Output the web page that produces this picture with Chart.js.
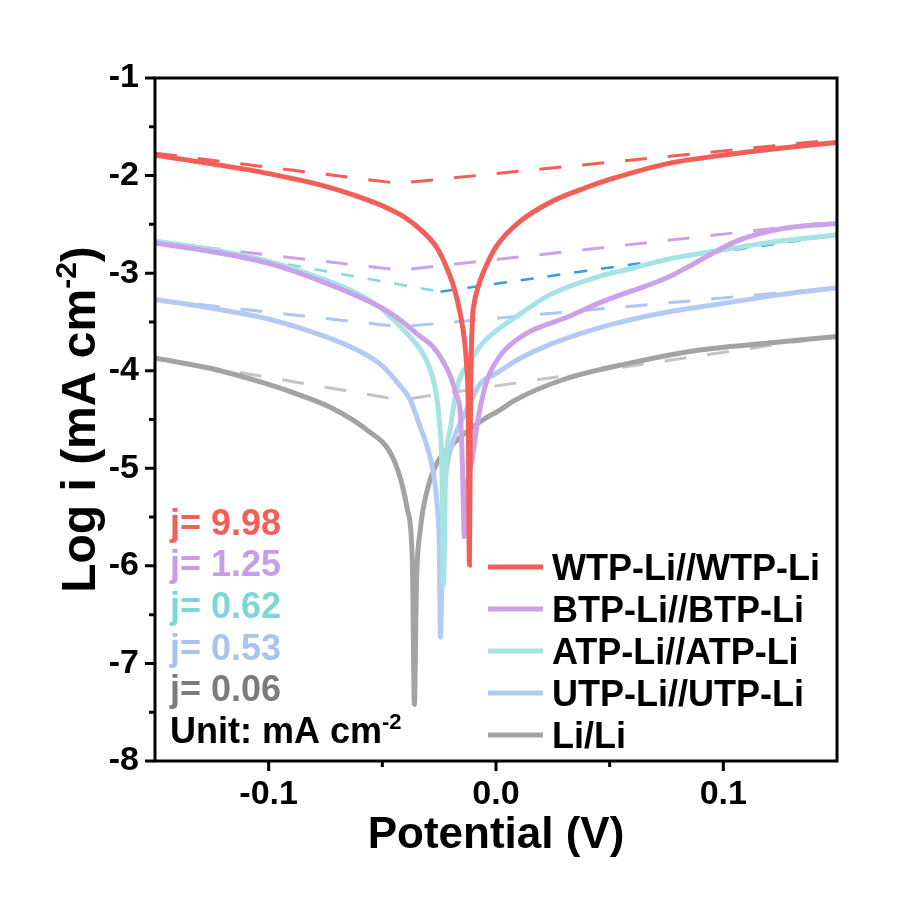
<!DOCTYPE html>
<html>
<head>
<meta charset="utf-8">
<script src="https://cdn.jsdelivr.net/npm/chart.js@4.4.1/dist/chart.umd.min.js"></script>
<style>
  html, body { margin: 0; padding: 0; background: #fff; }
  canvas { display: block; }
</style>
</head>
<body>
<canvas id="tafel" width="904" height="906"></canvas>
<script>
// measured curves: potential (V) and log i
const wtpE   = [-0.15, -0.125, -0.1, -0.075, -0.06, -0.05, -0.04, -0.032, -0.026, -0.0214, -0.0182, -0.0157, -0.0139, -0.0129, -0.0122, -0.0117, -0.0112, -0.0104, -0.0095, -0.008, -0.005, 0, 0.01, 0.025, 0.04, 0.05, 0.075, 0.1, 0.125, 0.15];
const wtpLog = [-1.79, -1.88, -1.98, -2.11, -2.22, -2.31, -2.43, -2.58, -2.74, -2.96, -3.17, -3.42, -3.68, -3.95, -4.4, -5.99, -4.3, -3.5, -3.3, -3.15, -2.96, -2.73, -2.48, -2.26, -2.12, -2.04, -1.88, -1.79, -1.72, -1.66];

const btpE   = [-0.15, -0.125, -0.1, -0.075, -0.05, -0.0421, -0.0349, -0.0275, -0.0234, -0.02, -0.0174, -0.0156, -0.0148, -0.0139, -0.0127, -0.0104, -0.0081, -0.0054, -0.0037, 0.002, 0.0081, 0.0165, 0.0315, 0.046, 0.06, 0.075, 0.085, 0.095, 0.105, 0.115, 0.127, 0.15];
const btpLog = [-2.69, -2.78, -2.9, -3.1, -3.36, -3.48, -3.62, -3.76, -3.9, -4.06, -4.25, -4.47, -4.94, -5.7, -5.2, -4.9, -4.52, -4.22, -4.08, -3.84, -3.7, -3.58, -3.45, -3.3, -3.18, -3.05, -2.93, -2.8, -2.68, -2.6, -2.54, -2.49];

const atpE   = [-0.15, -0.125, -0.1, -0.075, -0.06, -0.05, -0.042, -0.036, -0.0315, -0.0281, -0.0262, -0.0248, -0.0238, -0.0231, -0.0222, -0.02, -0.0165, -0.0126, -0.0056, 0.0093, 0.0238, 0.046, 0.06, 0.075, 0.1, 0.125, 0.15];
const atpLog = [-2.67, -2.76, -2.88, -3.07, -3.22, -3.37, -3.55, -3.7, -3.85, -4.05, -4.25, -4.55, -5.0, -6.2, -5.1, -4.58, -4.12, -3.95, -3.71, -3.44, -3.22, -3.03, -2.95, -2.86, -2.76, -2.67, -2.61];

const utpE   = [-0.15, -0.125, -0.1, -0.075, -0.06, -0.05, -0.042, -0.0377, -0.0333, -0.03, -0.0275, -0.0258, -0.025, -0.0244, -0.0235, -0.0222, -0.0187, -0.0143, -0.0068, 0, 0.01, 0.025, 0.05, 0.075, 0.1, 0.125, 0.15];
const utpLog = [-3.27, -3.36, -3.47, -3.65, -3.8, -3.95, -4.16, -4.3, -4.58, -4.8, -5.05, -5.4, -5.75, -6.73, -5.6, -5.1, -4.71, -4.47, -4.13, -4.03, -3.88, -3.72, -3.53, -3.4, -3.31, -3.22, -3.15];

const liE   = [-0.15, -0.125, -0.1, -0.085, -0.0716, -0.0566, -0.0465, -0.0421, -0.039, -0.0368, -0.0359, -0.035, -0.0333, -0.0302, -0.0258, -0.017, -0.0055, 0.002, 0.0077, 0.0297, 0.0593, 0.0888, 0.1178, 0.15];
const liLog = [-3.87, -3.98, -4.14, -4.26, -4.39, -4.61, -4.84, -5.1, -5.42, -5.95, -7.42, -6.2, -5.63, -5.22, -4.94, -4.71, -4.5, -4.4, -4.31, -4.09, -3.92, -3.79, -3.72, -3.65];

// Tafel fit lines
const wtpFitE = [-0.15, -0.043, 0.15];
const wtpFitLog = [-1.77, -2.08, -1.63];
const btpFitE = [-0.15, -0.042, 0.15];
const btpFitLog = [-2.68, -2.97, -2.47];
const atpFitLeftE = [-0.15, -0.0244];
const atpFitLeftLog = [-2.67, -3.19];
const atpFitRightE = [-0.0244, 0.15];
const atpFitRightLog = [-3.19, -2.61];
const utpFitE = [-0.15, -0.042, 0.15];
const utpFitLog = [-3.27, -3.55, -3.15];
const liFitE = [-0.15, -0.042, 0.15];
const liFitLog = [-3.87, -4.3, -3.64];

const names = ['WTP-Li//WTP-Li', 'BTP-Li//BTP-Li', 'ATP-Li//ATP-Li', 'UTP-Li//UTP-Li', 'Li/Li'];
const jValues = ['9.98', '1.25', '0.62', '0.53', '0.06'];
const xTickValues = [-0.1, 0, 0.1];
const xTickLabels = ['-0.1', '0.0', '0.1'];

const lineColors = ['#F25E58', '#CBA2EA', '#A6E4E4', '#B3CBF3', '#A3A3A3'];
const fitColors  = ['#F25E58', '#CBA2EA', '#86DADB', '#AEC6F2', '#C4C4C4'];
const jColors    = ['#F25E58', '#C89CE8', '#7DD8D5', '#A9C3EF', '#7C7C7C'];
const blueFit = '#2E9EE0';

const FONT = "'Liberation Sans', Arial, sans-serif";

function pts(xs, ys) {
  return xs.map((x, i) => ({ x: x, y: ys[i] }));
}

const curves = [[wtpE, wtpLog], [btpE, btpLog], [atpE, atpLog], [utpE, utpLog], [liE, liLog]];
const datasets = curves.map((c, i) => ({
  label: names[i],
  data: pts(c[0], c[1]),
  borderColor: lineColors[i],
  borderWidth: 5,
  pointRadius: 0,
  cubicInterpolationMode: 'monotone'
}));

const fits = [
  [wtpFitE, wtpFitLog, fitColors[0], 3, [22, 21]],
  [btpFitE, btpFitLog, fitColors[1], 3, [22, 21]],
  [atpFitLeftE, atpFitLeftLog, fitColors[2], 2.5, [13, 14]],
  [atpFitRightE, atpFitRightLog, blueFit, 2.5, [13, 14]],
  [utpFitE, utpFitLog, fitColors[3], 3, [22, 21]],
  [liFitE, liFitLog, fitColors[4], 3, [22, 21]]
];
fits.forEach(f => {
  datasets.push({
    label: 'fit',
    data: pts(f[0], f[1]),
    borderColor: f[2],
    borderWidth: f[3],
    borderDash: f[4],
    pointRadius: 0,
    tension: 0
  });
});

function drawSup(ctx, base, sup, tail, x, y, size) {
  ctx.font = 'bold ' + size + 'px ' + FONT;
  ctx.fillText(base, x, y);
  let w = ctx.measureText(base).width;
  const s = Math.round(size * 0.62);
  ctx.font = 'bold ' + s + 'px ' + FONT;
  ctx.fillText(sup, x + w, y - size * 0.4);
  w += ctx.measureText(sup).width;
  if (tail) {
    ctx.font = 'bold ' + size + 'px ' + FONT;
    ctx.fillText(tail, x + w, y);
  }
}

function supWidth(ctx, base, sup, tail, size) {
  ctx.font = 'bold ' + size + 'px ' + FONT;
  let w = ctx.measureText(base).width + (tail ? ctx.measureText(tail).width : 0);
  ctx.font = 'bold ' + Math.round(size * 0.62) + 'px ' + FONT;
  return w + ctx.measureText(sup).width;
}

const decor = {
  id: 'decor',
  beforeDraw(chart) {
    const ctx = chart.ctx;
    ctx.save();
    ctx.fillStyle = '#fff';
    ctx.fillRect(0, 0, chart.width, chart.height);
    ctx.restore();
  },
  afterDraw(chart) {
    const ctx = chart.ctx;
    const a = chart.chartArea;
    const xs = chart.scales.x, ys = chart.scales.y;
    ctx.save();

    // frame
    ctx.strokeStyle = '#000';
    ctx.lineWidth = 3;
    ctx.strokeRect(a.left, a.top, a.right - a.left, a.bottom - a.top);

    // ticks, outward, with minor ones
    ctx.lineWidth = 3;
    ctx.beginPath();
    for (let v = -8; v <= -1; v += 0.5) {
      const p = ys.getPixelForValue(v);
      const len = Number.isInteger(v) ? 10 : 6;
      ctx.moveTo(a.left, p);
      ctx.lineTo(a.left - len, p);
    }
    for (let k = -2; k <= 2; k++) {
      const p = xs.getPixelForValue(k * 0.05);
      const len = k % 2 === 0 ? 10 : 6;
      ctx.moveTo(p, a.bottom);
      ctx.lineTo(p, a.bottom + len);
    }
    ctx.stroke();

    // axis titles
    ctx.fillStyle = '#000';
    ctx.textBaseline = 'alphabetic';
    ctx.textAlign = 'left';
    ctx.font = 'bold 44px ' + FONT;
    const xt = 'Potential (V)';
    const xw = ctx.measureText(xt).width;
    ctx.fillText(xt, (a.left + a.right) / 2 - xw / 2, 848);

    ctx.save();
    ctx.translate(95, (a.top + a.bottom) / 2);
    ctx.rotate(-Math.PI / 2);
    const yw = supWidth(ctx, 'Log i (mA cm', '-2', ')', 48);
    drawSup(ctx, 'Log i (mA cm', '-2', ')', -yw / 2, 0, 48);
    ctx.restore();

    // j values
    const rowY = [522, 563, 605, 647, 688];
    ctx.font = 'bold 36px ' + FONT;
    jValues.forEach((j, i) => {
      ctx.fillStyle = jColors[i];
      ctx.fillText('j= ' + j, 170, rowY[i] + 13);
    });
    ctx.fillStyle = '#000';
    drawSup(ctx, 'Unit: mA cm', '-2', '', 170, 730 + 13, 36);

    // legend
    const legY = [567, 609, 651, 693, 735];
    names.forEach((n, i) => {
      ctx.strokeStyle = lineColors[i];
      ctx.lineWidth = 5;
      ctx.beginPath();
      ctx.moveTo(488, legY[i]);
      ctx.lineTo(543, legY[i]);
      ctx.stroke();
      ctx.fillStyle = '#000';
      ctx.font = 'bold 36px ' + FONT;
      ctx.fillText(n, 552, legY[i] + 13);
    });
    ctx.restore();
  }
};

new Chart(document.getElementById('tafel').getContext('2d'), {
  type: 'line',
  data: { datasets: datasets },
  options: {
    responsive: false,
    animation: false,
    devicePixelRatio: 1,
    layout: { padding: { left: 0, top: 78, right: 67, bottom: 0 } },
    plugins: { legend: { display: false }, tooltip: { enabled: false } },
    scales: {
      x: {
        type: 'linear',
        min: -0.15,
        max: 0.15,
        afterFit(scale) { scale.height = 145; },
        afterBuildTicks(scale) { scale.ticks = xTickValues.map(v => ({ value: v })); },
        border: { display: false },
        grid: { drawOnChartArea: false, drawTicks: true, tickLength: 10, tickColor: 'rgba(0,0,0,0)' },
        ticks: {
          autoSkip: false,
          maxRotation: 0,
          padding: 3,
          color: '#000',
          font: { family: FONT, size: 34, weight: 'bold' },
          callback(v) {
            const i = xTickValues.findIndex(t => Math.abs(t - v) < 1e-6);
            return i >= 0 ? xTickLabels[i] : '';
          }
        }
      },
      y: {
        type: 'linear',
        min: -8,
        max: -1,
        afterFit(scale) { scale.width = 155; },
        border: { display: false },
        grid: { drawOnChartArea: false, drawTicks: true, tickLength: 10, tickColor: 'rgba(0,0,0,0)' },
        ticks: {
          stepSize: 1,
          padding: 6,
          color: '#000',
          font: { family: FONT, size: 34, weight: 'bold' },
          callback(v) { return String(v); }
        }
      }
    }
  },
  plugins: [decor]
});
</script>
</body>
</html>
